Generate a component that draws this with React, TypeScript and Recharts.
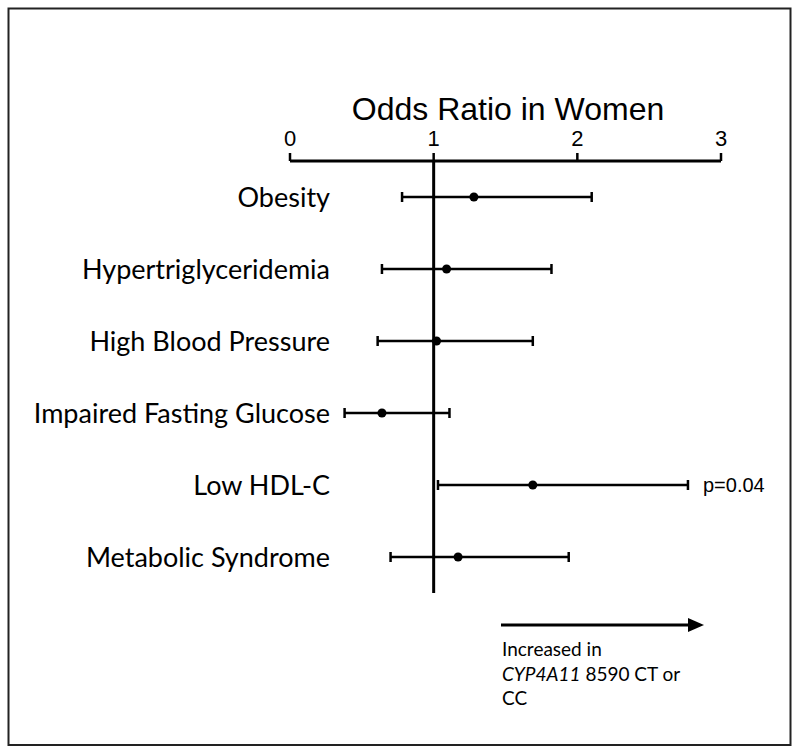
import React from 'react';
import {
  ComposedChart, Scatter, XAxis, YAxis, ErrorBar, ReferenceLine, ReferenceDot,
} from 'recharts';

const categories = [
  'Obesity',
  'Hypertriglyceridemia',
  'High Blood Pressure',
  'Impaired Fasting Glucose',
  'Low HDL-C',
  'Metabolic Syndrome',
];
const oddsRatio = [1.28, 1.09, 1.02, 0.64, 1.69, 1.17];
const ciLow = [0.78, 0.64, 0.61, 0.38, 1.03, 0.70];
const ciHigh = [2.10, 1.82, 1.69, 1.11, 2.77, 1.94];
const xTicks = [0, 1, 2, 3];

const ARIAL = '"Liberation Sans", Arial, sans-serif';
const CALIBRI = 'Lato, "Open Sans", sans-serif';

// ErrorBar wants offsets from the point, not absolute bounds
const rows = categories.map((name, i) => ({
  name,
  or: oddsRatio[i],
  err: [oddsRatio[i] - ciLow[i], ciHigh[i] - oddsRatio[i]],
}));

const pNoteRow = 4;

function CategoryTick({ x, y, payload }: any) {
  return (
    <text x={x + 48} y={y + 9.5} textAnchor="end" fontFamily={CALIBRI} fontSize={27} fill="#000">
      {payload.value}
    </text>
  );
}

function Dot({ cx, cy }: any) {
  return <circle cx={cx} cy={cy} r={4.5} fill="#000" />;
}

export default function App() {
  return (
    <div style={{ position: 'absolute', left: 0, top: 0, width: 800, height: 754, background: '#fff' }}>
      <ComposedChart
        width={800}
        height={754}
        data={rows}
        layout="vertical"
        margin={{ top: 121, right: 79, bottom: 161, left: 10 }}
      >
        <XAxis
          type="number"
          dataKey="or"
          orientation="top"
          domain={[0, 3]}
          ticks={xTicks}
          height={40}
          tickSize={8}
          tickMargin={7}
          axisLine={{ stroke: '#000', strokeWidth: 3 }}
          tickLine={{ stroke: '#000', strokeWidth: 2.5 }}
          tick={{ fontSize: 22, fill: '#000', fontFamily: ARIAL }}
        />
        <YAxis
          type="category"
          dataKey="name"
          scale="band"
          width={280}
          axisLine={false}
          tickLine={false}
          tick={<CategoryTick />}
          interval={0}
        />
        <ReferenceLine x={1} stroke="#000" strokeWidth={3} />
        <Scatter dataKey="or" fill="#000" shape={<Dot />} isAnimationActive={false}>
          <ErrorBar dataKey="err" direction="x" width={5} stroke="#000" strokeWidth={2.5} isAnimationActive={false} />
        </Scatter>
        <ReferenceDot
          x={ciHigh[pNoteRow]}
          y={categories[pNoteRow]}
          r={0}
          stroke="none"
          label={{ value: 'p=0.04', position: 'right', offset: 15, fill: '#000', fontSize: 20, fontFamily: ARIAL }}
        />
      </ComposedChart>

      <svg width={800} height={754} style={{ position: 'absolute', left: 0, top: 0, pointerEvents: 'none' }}>
        <rect x={8.5} y={8.5} width={782} height={736.5} fill="none" stroke="#222" strokeWidth={2} />
        <text x={508} y={119.5} textAnchor="middle" fontFamily={ARIAL} fontSize={32} fill="#000">
          Odds Ratio in Women
        </text>
        <line x1={501} y1={625} x2={689} y2={625} stroke="#000" strokeWidth={3} />
        <polygon points="688,618 704,625 688,632" fill="#000" />
        <text fontFamily={CALIBRI} fontSize={19} fill="#000">
          <tspan x={502} y={656}>Increased in</tspan>
          <tspan x={502} y={680.5}>
            <tspan fontStyle="italic">CYP4A11</tspan> 8590 CT or
          </tspan>
          <tspan x={502} y={705}>CC</tspan>
        </text>
      </svg>
    </div>
  );
}
